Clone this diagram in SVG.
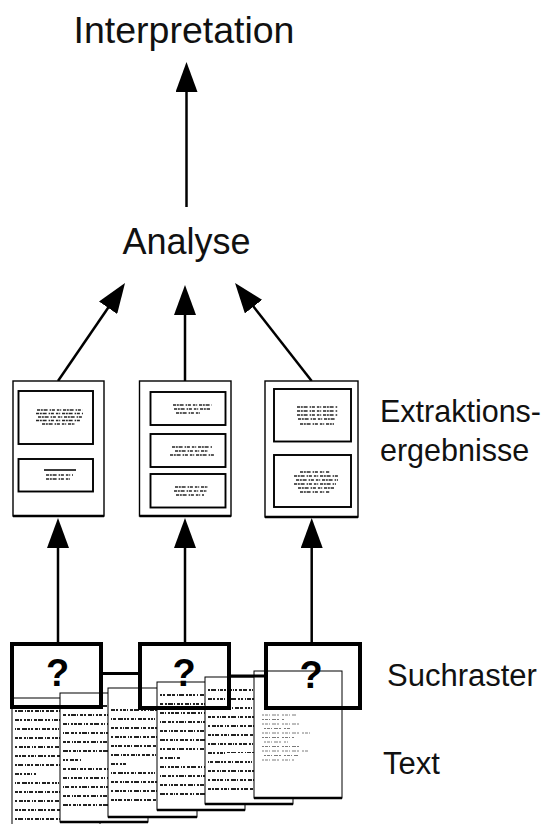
<svg xmlns="http://www.w3.org/2000/svg" width="551" height="824" viewBox="0 0 551 824">
  <style>
    .lbl { font-family: "Liberation Sans", Arial, sans-serif; fill: #111; }
    .edge { stroke: #000; stroke-width: 2.5; fill: none; }
    .link { stroke: #000; stroke-width: 3; fill: none; }
    .frame { fill: #fff; stroke: #000; stroke-width: 1.4; }
    .foot { stroke: #000; stroke-width: 2.6; }
    .inner { fill: #fff; stroke: #000; stroke-width: 1.9; }
    .raster { fill: none; stroke: #000; stroke-width: 4; }
    .q { font-family: "Liberation Sans", Arial, sans-serif; font-weight: bold; font-size: 38px; text-anchor: middle; fill: #000; }
    .sheet { fill: #fff; stroke: #000; stroke-width: 1; }
    .mini { stroke: #262626; stroke-width: 1.6; fill: none; stroke-dasharray: 3 0.8 2 0.8 4 2 1.5 0.8 3 2 2.5 0.8 1 1.8; }
    .fine { stroke: #7a7a7a; stroke-width: 1; fill: none; stroke-dasharray: 2 1 3 1 1 2 4 1 2 3; }
  </style>
  <defs>
    <marker id="head" viewBox="0 0 30 22" refX="8" refY="11" markerWidth="30" markerHeight="22" markerUnits="userSpaceOnUse" orient="auto">
      <path d="M0 0L30 11L0 22Z" fill="#000"/>
    </marker>
    <!-- typed-page texture: six rows of word-like dashes -->
    <pattern id="txtA" width="88" height="54" patternUnits="userSpaceOnUse">
      <g stroke="#222" stroke-width="2" fill="none">
        <path d="M3 4H85" stroke-dasharray="3 1 2 1 4 2 2 1 3 1 1 2 5 1 2 2 2 1 4 2 3 1 2 1 3 2 1 1 4 2"/>
        <path d="M3 13H85" stroke-dasharray="2 1 5 2 1 1 3 1 2 2 4 1 1 1 2 2 3 1 4 2 2 1 1 2 5 1 2 2"/>
        <path d="M3 22H85" stroke-dasharray="4 1 2 2 2 1 3 1 1 2 3 1 5 2 2 1 2 2 1 1 4 1 2 2 3 2"/>
        <path d="M3 31H85" stroke-dasharray="1 1 3 2 5 1 2 1 2 2 3 1 1 2 4 1 3 2 2 1 2 1 1 2 3 1 4 2"/>
        <path d="M3 40H85" stroke-dasharray="3 1 3 2 2 1 1 1 4 2 2 1 5 2 1 1 3 2 2 1 3 1 2 2 4 2"/>
        <path d="M3 49H85" stroke-dasharray="2 2 4 1 2 1 3 2 1 1 2 2 5 1 1 2 3 1 2 2 4 1 2 1 1 2"/>
      </g>
    </pattern>
    <pattern id="txtB" width="88" height="54" patternUnits="userSpaceOnUse">
      <g stroke="#222" stroke-width="2" fill="none">
        <path d="M3 4H85" stroke-dasharray="5 1 2 2 3 1 1 1 2 2 4 1 3 2 2 1 1 2 3 1 5 2"/>
        <path d="M3 13H85" stroke-dasharray="2 1 2 2 4 1 3 2 1 1 5 2 2 1 3 1 2 2 1 2 4 1 2 2"/>
        <path d="M3 22H85" stroke-dasharray="3 2 2 1 5 1 1 2 3 1 2 2 4 1 1 2 2 1 3 2 2 1 4 2"/>
        <path d="M3 31H85" stroke-dasharray="4 1 1 2 2 1 3 1 4 2 1 1 2 2 3 1 5 2 2 1 1 2 3 2"/>
        <path d="M3 40H85" stroke-dasharray="1 1 4 2 3 1 2 2 2 1 5 1 1 2 4 1 2 2 3 1 1 1 2 2"/>
        <path d="M3 49H85" stroke-dasharray="3 1 3 2 1 1 2 1 4 2 3 1 2 2 5 1 1 2 2 1 4 2"/>
      </g>
    </pattern>
  </defs>

  <!-- stack of text pages, rightmost on top -->
  <g id="text-pages">
    <g id="page-1" transform="translate(12,698)">
      <rect class="sheet" width="88" height="132"/>
      <rect x="3" y="10" width="82" height="118" fill="url(#txtA)"/>
      <rect x="24" y="68" width="62" height="11" fill="#fff"/>
    </g>
    <g id="page-2" transform="translate(60,693)">
      <rect class="sheet" width="88" height="129"/>
      <rect x="3" y="10" width="82" height="108" fill="url(#txtB)"/>
      <rect x="22" y="62" width="64" height="6" fill="#fff"/>
      <line x1="0" y1="129" x2="88" y2="129" class="foot"/>
    </g>
    <g id="page-3" transform="translate(108,688)">
      <rect class="sheet" width="89" height="129"/>
      <rect x="3" y="14" width="82" height="104" fill="url(#txtA)"/>
      <rect x="18" y="71" width="68" height="6" fill="#fff"/>
      <line x1="0" y1="129" x2="89" y2="129" class="foot"/>
    </g>
    <g id="page-4" transform="translate(157,682)">
      <rect class="sheet" width="88" height="128"/>
      <rect x="3" y="9" width="82" height="108" fill="url(#txtB)"/>
      <rect x="24" y="72" width="62" height="6" fill="#fff"/>
      <line x1="0" y1="128" x2="88" y2="128" class="foot"/>
    </g>
    <g id="page-5" transform="translate(205,677)">
      <rect class="sheet" width="88" height="127"/>
      <rect x="3" y="9" width="82" height="108" fill="url(#txtA)"/>
      <rect x="22" y="76" width="64" height="6" fill="#fff"/>
      <line x1="0" y1="127" x2="88" y2="127" class="foot"/>
    </g>
    <g id="page-6" transform="translate(254,671)">
      <rect class="sheet" width="88" height="127"/>
      <path class="fine" d="M8 44H42M8 48.5H30M8 53H46M10 57.5H36M8 62H58M8 66.5H40M10 71H34M8 75.5H48M8 80H54M10 84.5H44M8 89H40"/>
      <line x1="0" y1="127" x2="88" y2="127" class="foot"/>
    </g>
  </g>

  <!-- connectors -->
  <g id="connectors">
    <line class="edge" x1="186.5" y1="207" x2="186.5" y2="84" marker-end="url(#head)"/>
    <line class="edge" x1="58" y1="381" x2="112.6" y2="301.2" marker-end="url(#head)"/>
    <line class="edge" x1="185" y1="381" x2="185" y2="307" marker-end="url(#head)"/>
    <line class="edge" x1="311.7" y1="381" x2="248.6" y2="300.3" marker-end="url(#head)"/>
    <line class="edge" x1="58" y1="642" x2="58" y2="540" marker-end="url(#head)"/>
    <line class="edge" x1="185" y1="642" x2="185" y2="540" marker-end="url(#head)"/>
    <line class="edge" x1="311.7" y1="642" x2="311.7" y2="540" marker-end="url(#head)"/>
    <line class="link" x1="103" y1="673.5" x2="138" y2="673.5"/>
    <line class="link" x1="231" y1="676" x2="264" y2="676"/>
  </g>

  <!-- search grids -->
  <g id="raster-1">
    <rect class="raster" x="12" y="644" width="89" height="63"/>
    <text class="q" x="57.5" y="686">?</text>
  </g>
  <g id="raster-2">
    <rect class="raster" x="140" y="644" width="89" height="64"/>
    <text class="q" x="184" y="686">?</text>
  </g>
  <g id="raster-3">
    <rect class="raster" x="266" y="644" width="94" height="64"/>
    <text class="q" x="311" y="688">?</text>
  </g>

  <!-- extraction results -->
  <g id="result-1">
    <rect class="frame" x="13" y="381" width="91" height="135"/>
    <line class="foot" x1="13" y1="516" x2="104" y2="516"/>
    <rect class="inner" x="18.5" y="391" width="74.5" height="53"/>
    <path class="mini" d="M37 410H83M36 413.5H83M38 417H82M36 420.5H80M42 424H75"/>
    <rect class="inner" x="18.5" y="459" width="74.5" height="32.5"/>
    <path class="mini" d="M44 470H76" style="stroke-dasharray:none;stroke-width:1.8"/>
    <path class="mini" d="M46 475H73M46 479H70"/>
  </g>
  <g id="result-2">
    <rect class="frame" x="139.5" y="381" width="91.5" height="135"/>
    <line class="foot" x1="139.5" y1="516" x2="231" y2="516"/>
    <rect class="inner" x="150.5" y="392" width="75" height="33"/>
    <path class="mini" d="M173 405H212M174 409H210M176 413H200"/>
    <rect class="inner" x="150.5" y="434" width="75" height="33"/>
    <path class="mini" d="M172 447H212M175 451H208M170 455H214"/>
    <rect class="inner" x="150.5" y="474" width="75" height="33.5"/>
    <path class="mini" d="M175 487H208M174 491H207M176 495H204"/>
  </g>
  <g id="result-3">
    <rect class="frame" x="265" y="381" width="93" height="136"/>
    <line class="foot" x1="265" y1="517" x2="358" y2="517"/>
    <rect class="inner" x="274" y="389" width="77" height="52.5"/>
    <path class="mini" d="M297 407H338M297 411H338M297 415H338M298 419H336M300 424H334"/>
    <rect class="inner" x="274" y="455" width="77" height="52"/>
    <path class="mini" d="M300 472H330M294 476H338M296 480H338M294 484H336M298 488H334M300 492H330"/>
  </g>

  <!-- labels -->
  <g id="labels">
    <text class="lbl" x="184" y="43" font-size="37.5" text-anchor="middle">Interpretation</text>
    <text class="lbl" x="186.5" y="254" font-size="36" text-anchor="middle">Analyse</text>
    <text class="lbl" x="380" y="422" font-size="30.5">Extraktions-</text>
    <text class="lbl" x="380" y="461" font-size="30.5">ergebnisse</text>
    <text class="lbl" x="387" y="686" font-size="31">Suchraster</text>
    <text class="lbl" x="383" y="774" font-size="31">Text</text>
  </g>
</svg>
